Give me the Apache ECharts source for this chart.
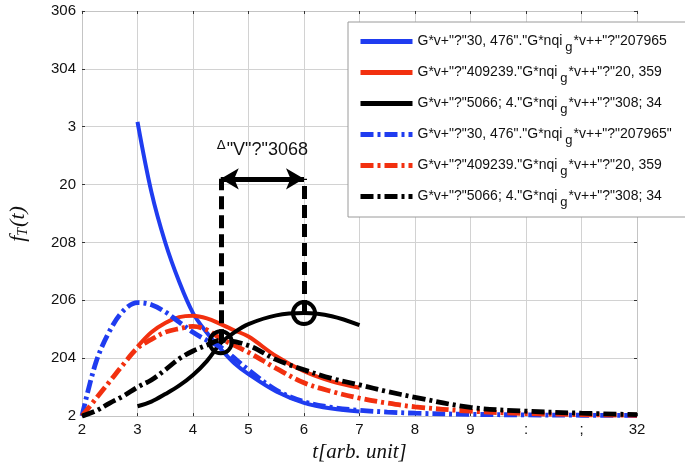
<!DOCTYPE html>
<html><head><meta charset="utf-8">
<script src="https://cdn.jsdelivr.net/npm/echarts@6/dist/echarts.min.js"></script>
<style>html,body{margin:0;padding:0;background:#fff}#c{width:685px;height:468px}</style>
</head><body><div id="c"></div>
<script>
const xTickLabels = ['2','3','4','5','6','7','8','9',':',';','32'];
const yTickLabels = ['2','204','206','208','20','3','304','306'];

const tSolid     = [1.0, 1.25, 1.5, 1.75, 2.0, 2.25, 2.5, 2.75, 3.0, 3.5, 4.0, 4.5, 5.0];
const blueSolid  = [1.017, 0.775, 0.6, 0.465, 0.356, 0.288, 0.232, 0.182, 0.145, 0.085, 0.046, 0.026, 0.016];
const redSolid   = [0.24, 0.29, 0.322, 0.342, 0.347, 0.338, 0.318, 0.296, 0.275, 0.207, 0.155, 0.12, 0.098];
const blackSolid = [0.034, 0.05, 0.076, 0.105, 0.142, 0.19, 0.252, 0.29, 0.318, 0.348, 0.356, 0.345, 0.314];

const tDash      = [0, 0.25, 0.5, 0.75, 1.0, 1.25, 1.5, 1.75, 2.0, 2.25, 2.5, 3.0, 3.5, 4.0, 4.5, 5.0, 5.5, 6.0, 7.0, 8.0, 9.0, 10.0];
const blueDash   = [0, 0.185, 0.295, 0.365, 0.392, 0.385, 0.36, 0.325, 0.29, 0.262, 0.238, 0.16, 0.09, 0.05, 0.03, 0.02, 0.014, 0.01, 0.006, 0.004, 0.003, 0.002];
const redDash    = [0, 0.06, 0.12, 0.18, 0.235, 0.265, 0.29, 0.302, 0.31, 0.298, 0.268, 0.22, 0.165, 0.115, 0.085, 0.062, 0.045, 0.032, 0.017, 0.009, 0.005, 0.003];
const blackDash  = [0, 0.018, 0.045, 0.07, 0.1, 0.125, 0.16, 0.198, 0.225, 0.245, 0.262, 0.244, 0.195, 0.16, 0.13, 0.108, 0.085, 0.065, 0.03, 0.017, 0.01, 0.005];

const markerPoints = [[2.5, 0.255], [4.0, 0.356]];
const arrowLevel = 0.82;
const deltaLabel = ['Δ', '"V"?"3068'];

const legendLabels = [
  ['G*v+"?"30, 476"."G*nqi', 'g', '*v++"?"207965'],
  ['G*v+"?"409239."G*nqi', 'g', '*v++"?"20, 359'],
  ['G*v+"?"5066; 4."G*nqi', 'g', '*v++"?"308; 34'],
  ['G*v+"?"30, 476"."G*nqi', 'g', '*v++"?"207965"'],
  ['G*v+"?"409239."G*nqi', 'g', '*v++"?"20, 359'],
  ['G*v+"?"5066; 4."G*nqi', 'g', '*v++"?"308; 34']
];

const BLUE = '#1f3cf0', RED = '#f2300f', BLACK = '#000000';
const DASHDOT = [13, 4, 3, 4];
const zip = (xs, ys) => xs.map((x, i) => [x, ys[i]]);

function lineSeries(id, xs, ys, color, dashed) {
  return {
    name: 's' + id, type: 'line', data: zip(xs, ys), symbol: 'none', showSymbol: false, smooth: 0.35,
    lineStyle: { color: color, width: dashed ? 4.8 : 4, type: dashed ? DASHDOT : 'solid', cap: 'butt' },
    itemStyle: { color: color }, z: 3
  };
}

const chart = echarts.init(document.getElementById('c'), null, { renderer: 'canvas' });
const axisCommon = {
  axisLine: { show: true, onZero: false, lineStyle: { color: '#c4c4c4', width: 1 } },
  axisTick: { show: true, inside: true, length: 3, lineStyle: { color: '#333' } }
};
chart.setOption({
  animation: false,
  backgroundColor: '#fff',
  grid: { left: 82, right: 48, top: 11, bottom: 43 },
  xAxis: [
    Object.assign({}, axisCommon, {
      type: 'value', min: 0, max: 10, interval: 1, position: 'bottom',
      splitLine: { show: true, lineStyle: { color: '#d2d2d2' } },
      axisLabel: { color: '#111', fontSize: 15, fontFamily: 'Liberation Sans', margin: 6,
        formatter: v => xTickLabels[Math.round(v)] },
      name: 't[arb. unit]', nameLocation: 'middle', nameGap: 20,
      nameTextStyle: { fontFamily: 'Liberation Serif', fontStyle: 'italic', fontSize: 21, color: '#111', verticalAlign: 'top' }
    }),
    Object.assign({}, axisCommon, {
      type: 'value', min: 0, max: 10, interval: 1, position: 'top',
      splitLine: { show: false }, axisLabel: { show: false }
    })
  ],
  yAxis: [
    Object.assign({}, axisCommon, {
      type: 'value', min: 0, max: 1.4, interval: 0.2, position: 'left',
      splitLine: { show: true, lineStyle: { color: '#d2d2d2' } },
      axisLabel: { color: '#111', fontSize: 15, fontFamily: 'Liberation Sans', margin: 6,
        padding: [0, 0, 8, 0],
        formatter: v => yTickLabels[Math.round(v / 0.2)] }
    }),
    Object.assign({}, axisCommon, {
      type: 'value', min: 0, max: 1.4, interval: 0.2, position: 'right',
      splitLine: { show: false }, axisLabel: { show: false }
    })
  ],
  legend: {
    data: ['s0', 's1', 's2', 's3', 's4', 's5'],
    orient: 'vertical', left: 348, top: 22,
    padding: [7, 40, 8, 10], itemGap: 6, itemWidth: 52, itemHeight: 14,
    backgroundColor: '#fff', borderColor: '#9a9a9a', borderWidth: 1,
    itemStyle: { color: 'rgba(0,0,0,0)', borderWidth: 0, opacity: 0 },
    lineStyle: { width: 5, cap: 'butt' },
    formatter: name => {
      const L = legendLabels[+name.slice(1)];
      return '{a|' + L[0] + '}{b|' + L[1] + '}{a|' + L[2] + '}';
    },
    textStyle: {
      rich: {
        a: { fontSize: 14, fontFamily: 'Liberation Sans', color: '#111', lineHeight: 18 },
        b: { fontSize: 13, fontFamily: 'Liberation Sans', color: '#111', lineHeight: 16, padding: [12, 1, 0, 3] }
      }
    }
  },
  graphic: [{
    type: 'text', x: 18, y: 224, rotation: Math.PI / 2,
    style: {
      text: '{f|f}{s|T}{f|(t)}', align: 'center', verticalAlign: 'middle',
      rich: {
        f: { fontSize: 22, fontFamily: 'Liberation Serif', fontStyle: 'italic', fill: '#111' },
        s: { fontSize: 14, fontFamily: 'Liberation Serif', fontStyle: 'italic', fill: '#111', padding: [10, 1, 0, 0] }
      }
    }
  }],
  series: [
    lineSeries(0, tSolid, blueSolid, BLUE, false),
    lineSeries(1, tSolid, redSolid, RED, false),
    lineSeries(2, tSolid, blackSolid, BLACK, false),
    lineSeries(3, tDash, blueDash, BLUE, true),
    lineSeries(4, tDash, redDash, RED, true),
    lineSeries(5, tDash, blackDash, BLACK, true),
    {
      name: 'markers', type: 'scatter', data: markerPoints, symbol: 'circle', symbolSize: 22,
      itemStyle: { color: 'rgba(0,0,0,0)', borderColor: '#000', borderWidth: 4, opacity: 1 }, z: 10,
      markLine: {
        silent: true, animation: false, z: 9,
        lineStyle: { color: '#000', width: 5, type: [13, 6], opacity: 1 },
        label: { show: false },
        data: [
          [{ coord: [markerPoints[0][0], markerPoints[0][1]], symbol: 'none' }, { coord: [markerPoints[0][0], arrowLevel], symbol: 'none' }],
          [{ coord: [markerPoints[1][0], markerPoints[1][1]], symbol: 'none' }, { coord: [markerPoints[1][0], arrowLevel], symbol: 'none' }],
          [{ coord: [markerPoints[0][0], arrowLevel], symbol: 'arrow', symbolSize: [16, 18],
             lineStyle: { type: 'solid', width: 5 },
             label: { show: true, position: 'middle', distance: 17, color: '#111',
               formatter: '{d|' + deltaLabel[0] + '}{v|' + deltaLabel[1] + '}',
               rich: {
                 d: { fontSize: 13, fontFamily: 'DejaVu Sans', color: '#111', padding: [0, 1, 10, 0] },
                 v: { fontSize: 18, fontFamily: 'Liberation Sans', color: '#111' }
               } } },
           { coord: [markerPoints[1][0], arrowLevel], symbol: 'arrow', symbolSize: [16, 18] }]
        ]
      }
    }
  ]
});
</script></body></html>
